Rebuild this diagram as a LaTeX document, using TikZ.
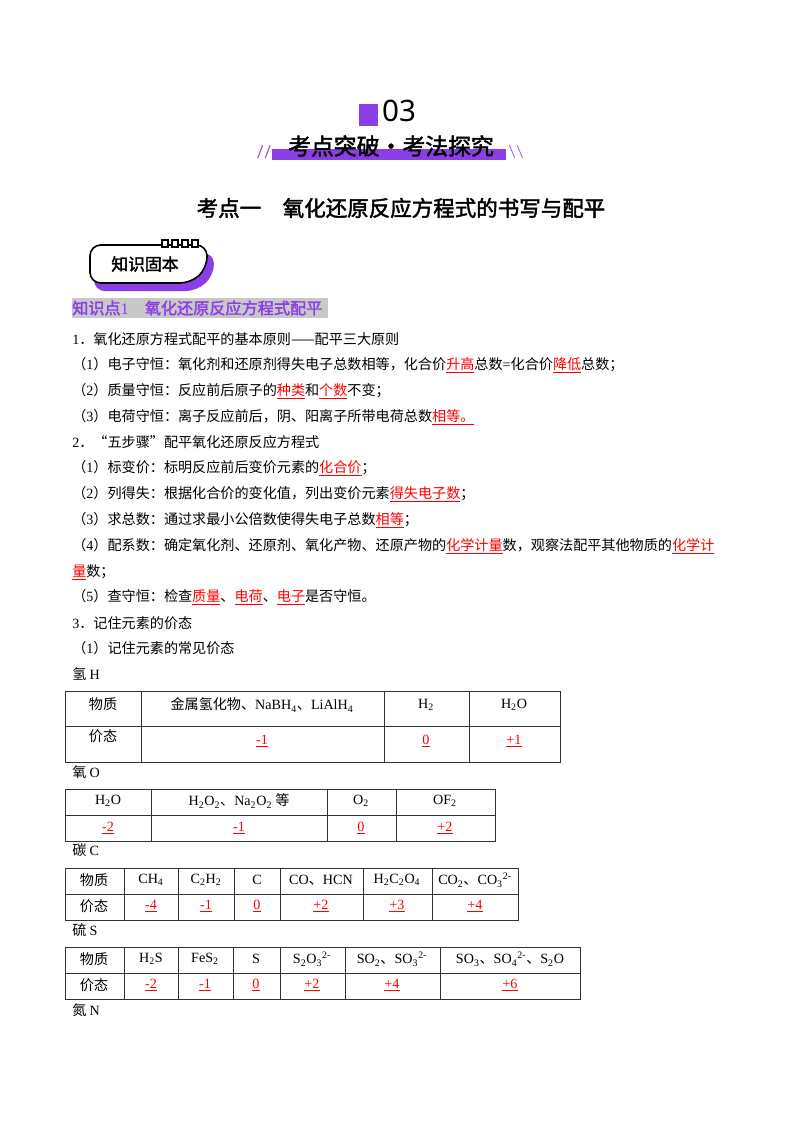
\documentclass[tikz,border=0pt]{standalone}
\usepackage{fontspec}
\setmainfont{Liberation Serif}
\newfontfamily\cjk{Noto Sans CJK SC}
\newfontfamily\cjkb{Noto Sans CJK SC}[FakeBold=2]
\newfontfamily\numf{Noto Sans}
\newcommand\lat[1]{{\rmfamily #1}}
\newcommand\ru[1]{\textcolor{red}{\underline{#1}}}
\definecolor{pur}{RGB}{140,62,230}
\definecolor{hbg}{RGB}{200,200,200}
\begin{document}
\begin{tikzpicture}[x=0.744pt,y=-0.744pt,
  txt/.style={anchor=west,inner sep=0pt,font=\cjk\fontsize{10.5}{12}\selectfont},
  cell/.style={inner sep=0pt,font=\cjk\fontsize{10.5}{12}\selectfont},
  grid/.style={line width=0.7pt,draw=black!80}]
\useasboundingbox (0,0) rectangle (800,1132);
% header
\fill[pur] (359,104) rectangle (378,126);
\node[inner sep=0,font=\numf\fontsize{22}{24}\selectfont] (n03) at (399,111) {03};
\fill[pur] (272,149) rectangle (506,160);
\node[inner sep=0,font=\cjkb\fontsize{17}{19}\selectfont] (ban) at (391,146) {考点突破·考法探究};
\node[inner sep=0,text=pur,font=\bfseries\sffamily\fontsize{10}{10}\selectfont] (sl1) at (264,152) {//};
\node[inner sep=0,text=pur,font=\bfseries\sffamily\fontsize{10}{10}\selectfont] (sl2) at (516,152) {\textbackslash\textbackslash};
\node[inner sep=0,font=\cjkb\fontsize{16}{18}\selectfont] (title) at (401,208) {考点一\quad 氧化还原反应方程式的书写与配平};
% knowledge box
\fill[pur,rounded corners=8pt] (94,253) -- (214,253) -- (214,275) -- (197,291) -- (94,291) -- cycle;
\draw[line width=1.2pt,fill=white,rounded corners=8pt] (90,245) -- (207,245) -- (207,268) -- (191,283) -- (90,283) -- cycle;
\foreach \i in {0,1,2,3} \draw[line width=1pt,fill=white] (162+\i*10,240) rectangle (168+\i*10,247);
\node[inner sep=0,font=\cjkb\fontsize{12.5}{14}\selectfont] (kb) at (145,264) {知识固本};
% section heading
\fill[hbg] (72,298) rectangle (328,318);
\node[txt,text=pur,font=\cjkb\fontsize{12}{14}\selectfont] (h1) at (72,308) {知识点\lat{\mdseries 1}\quad 氧化还原反应方程式配平};
% body lines
\node[txt] (l1) at (72,339) {\lat{1}．氧化还原方程式配平的基本原则——配平三大原则};
\node[txt] (l2) at (72,365) {（\lat{1}）电子守恒：氧化剂和还原剂得失电子总数相等，化合价\ru{升高}总数\lat{=}化合价\ru{降低}总数；};
\node[txt] (l3) at (72,391) {（\lat{2}）质量守恒：反应前后原子的\ru{种类}和\ru{个数}不变；};
\node[txt] (l4) at (72,417) {（\lat{3}）电荷守恒：离子反应前后，阴、阳离子所带电荷总数\ru{相等。}};
\node[txt] (l5) at (72,442) {\lat{2}．“五步骤”配平氧化还原反应方程式};
\node[txt] (l6) at (72,468) {（\lat{1}）标变价：标明反应前后变价元素的\ru{化合价}；};
\node[txt] (l7) at (72,494) {（\lat{2}）列得失：根据化合价的变化值，列出变价元素\ru{得失电子数}；};
\node[txt] (l8) at (72,520) {（\lat{3}）求总数：通过求最小公倍数使得失电子总数\ru{相等}；};
\node[txt] (l9) at (72,546) {（\lat{4}）配系数：确定氧化剂、还原剂、氧化产物、还原产物的\ru{化学计量}数，观察法配平其他物质的\ru{化学计}};
\node[txt] (l10) at (72,572) {\ru{量}数；};
\node[txt] (l11) at (72,597) {（\lat{5}）查守恒：检查\ru{质量}、\ru{电荷}、\ru{电子}是否守恒。};
\node[txt] (l12) at (72,623) {\lat{3}．记住元素的价态};
\node[txt] (l13) at (72,648) {（\lat{1}）记住元素的常见价态};
\node[txt] (l14) at (72,674) {氢 \lat{H}};
% table H
\draw[grid] (65,691) rectangle (560,762) (65,726) -- (560,726);
\foreach \x in {141,384,469} \draw[grid] (\x,691) -- (\x,762);
\node[cell] (h11) at (103,704) {物质};
\node[cell] (h12) at (262,705) {金属氢化物、\lat{NaBH\textsubscript{4}}、\lat{LiAlH\textsubscript{4}}};
\node[cell] (h13) at (426,705) {\lat{H\textsubscript{2}}};
\node[cell] (h14) at (514,705) {\lat{H\textsubscript{2}O}};
\node[cell] (h21) at (103,736) {价态};
\node[cell] (h22) at (262,741) {\lat{\ru{-1}}};
\node[cell] (h23) at (426,741) {\lat{\ru{0}}};
\node[cell] (h24) at (514,741) {\lat{\ru{+1}}};
\node[txt] (lO) at (72,772) {氧 \lat{O}};
% table O
\draw[grid] (65,789) rectangle (495,841) (65,815) -- (495,815);
\foreach \x in {151,327,396} \draw[grid] (\x,789) -- (\x,841);
\node[cell] (o11) at (108,801) {\lat{H\textsubscript{2}O}};
\node[cell] (o12) at (239,801) {\lat{H\textsubscript{2}O\textsubscript{2}}、\lat{Na\textsubscript{2}O\textsubscript{2}} 等};
\node[cell] (o13) at (361,801) {\lat{O\textsubscript{2}}};
\node[cell] (o14) at (445,801) {\lat{OF\textsubscript{2}}};
\node[cell] (o21) at (108,828) {\lat{\ru{-2}}};
\node[cell] (o22) at (239,828) {\lat{\ru{-1}}};
\node[cell] (o23) at (361,828) {\lat{\ru{0}}};
\node[cell] (o24) at (445,828) {\lat{\ru{+2}}};
\node[txt] (lC) at (72,850) {碳 \lat{C}};
% table C
\draw[grid] (65,868) rectangle (518,920) (65,894) -- (518,894);
\foreach \x in {124,178,234,280,363,432} \draw[grid] (\x,868) -- (\x,920);
\node[cell] (c11) at (94,880) {物质};
\node[cell] (c12) at (151,880) {\lat{CH\textsubscript{4}}};
\node[cell] (c13) at (206,880) {\lat{C\textsubscript{2}H\textsubscript{2}}};
\node[cell] (c14) at (257,880) {\lat{C}};
\node[cell] (c15) at (321,880) {\lat{CO}、\lat{HCN}};
\node[cell] (c16) at (397,880) {\lat{H\textsubscript{2}C\textsubscript{2}O\textsubscript{4}}};
\node[cell] (c17) at (475,880) {\lat{CO\textsubscript{2}}、\lat{CO\textsubscript{3}\textsuperscript{2-}}};
\node[cell] (c21) at (94,906) {价态};
\node[cell] (c22) at (151,906) {\lat{\ru{-4}}};
\node[cell] (c23) at (206,906) {\lat{\ru{-1}}};
\node[cell] (c24) at (257,906) {\lat{\ru{0}}};
\node[cell] (c25) at (321,906) {\lat{\ru{+2}}};
\node[cell] (c26) at (397,906) {\lat{\ru{+3}}};
\node[cell] (c27) at (475,906) {\lat{\ru{+4}}};
\node[txt] (lS) at (72,930) {硫 \lat{S}};
% table S
\draw[grid] (65,947) rectangle (580,999) (65,973) -- (580,973);
\foreach \x in {124,178,233,280,345,440} \draw[grid] (\x,947) -- (\x,999);
\node[cell] (s11) at (94,959) {物质};
\node[cell] (s12) at (151,959) {\lat{H\textsubscript{2}S}};
\node[cell] (s13) at (205,959) {\lat{FeS\textsubscript{2}}};
\node[cell] (s14) at (256,959) {\lat{S}};
\node[cell] (s15) at (312,959) {\lat{S\textsubscript{2}O\textsubscript{3}\textsuperscript{2-}}};
\node[cell] (s16) at (392,959) {\lat{SO\textsubscript{2}}、\lat{SO\textsubscript{3}\textsuperscript{2-}}};
\node[cell] (s17) at (510,959) {\lat{SO\textsubscript{3}}、\lat{SO\textsubscript{4}\textsuperscript{2-}}、\lat{S\textsubscript{2}O}};
\node[cell] (s21) at (94,985) {价态};
\node[cell] (s22) at (151,985) {\lat{\ru{-2}}};
\node[cell] (s23) at (205,985) {\lat{\ru{-1}}};
\node[cell] (s24) at (256,985) {\lat{\ru{0}}};
\node[cell] (s25) at (312,985) {\lat{\ru{+2}}};
\node[cell] (s26) at (392,985) {\lat{\ru{+4}}};
\node[cell] (s27) at (510,985) {\lat{\ru{+6}}};
\node[txt] (lN) at (72,1010) {氮 \lat{N}};
\end{tikzpicture}
\end{document}
